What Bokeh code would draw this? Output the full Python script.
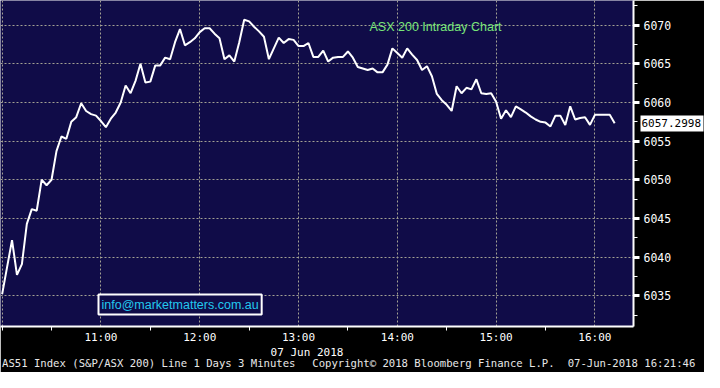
import pandas as pd
from bokeh.plotting import figure
from bokeh.models import (FixedTicker, Label, Range1d, DatetimeTickFormatter, ColumnDataSource,
                          LinearAxis)
from bokeh.embed import file_html
from bokeh.resources import INLINE

# ---------------- data ----------------
session_date = "2018-06-07"
start_time = "10:00"
bar_interval = "3min"
prices = [
    6035.2, 6038.7, 6042.2, 6037.7, 6039.1, 6044.3, 6046.2, 6046.0, 6050.0, 6049.3,
    6050.0, 6053.7, 6055.6, 6055.3, 6057.5, 6058.1, 6059.9, 6058.9, 6058.5, 6058.3,
    6057.6, 6056.8, 6057.9, 6058.7, 6060.0, 6062.2, 6061.2, 6062.8, 6065.0, 6062.6,
    6062.7, 6064.8, 6064.8, 6065.8, 6065.6, 6067.8, 6069.5, 6067.4, 6067.8, 6068.3,
    6069.1, 6069.6, 6069.6, 6068.9, 6068.3, 6065.6, 6066.1, 6065.3, 6067.8, 6070.7,
    6070.5, 6069.8, 6069.2, 6068.5, 6065.6, 6067.0, 6068.4, 6067.7, 6068.2, 6068.1,
    6067.3, 6067.3, 6067.7, 6065.9, 6065.9, 6066.7, 6065.3, 6065.8, 6065.9, 6065.9,
    6066.6, 6065.8, 6064.6, 6064.4, 6064.2, 6064.4, 6063.9, 6063.9, 6064.9, 6067.0,
    6066.4, 6065.8, 6067.0, 6066.2, 6065.5, 6064.2, 6064.7, 6063.4, 6061.1, 6060.3,
    6059.7, 6058.9, 6062.1, 6061.2, 6061.9, 6061.7, 6063.0, 6061.2, 6061.1, 6061.2,
    6060.1, 6057.9, 6059.0, 6058.1, 6059.5, 6059.1, 6058.7, 6058.2, 6057.8, 6057.5,
    6057.4, 6056.9, 6058.3, 6058.3, 6057.1, 6059.5, 6057.8, 6058.0, 6058.1, 6057.1,
    6058.4, 6058.4, 6058.4, 6058.4, 6057.2998,
]
hour_labels = ["11:00", "12:00", "13:00", "14:00", "15:00", "16:00"]
grid_hours = ["10:00", "11:00", "12:00", "13:00", "14:00", "15:00", "16:00"]
half_hours = ["10:00", "10:30", "11:30", "12:30", "13:30", "14:30", "15:30"]
x_window = ["09:59:00", "16:23:26"]
y_ticks = [6035, 6040, 6045, 6050, 6055, 6060, 6065, 6070]
y_minor = [6032.5, 6037.5, 6042.5, 6047.5, 6052.5, 6057.5, 6062.5, 6067.5, 6072.5]
y_window = [6031.02, 6073.195]
chart_title = "ASX 200 Intraday Chart"
contact = "info@marketmatters.com.au"
date_label = "07 Jun 2018"
footer_texts = ["AS51 Index (S&P/ASX 200) Line 1 Days 3 Minutes",
                "Copyright\u00a9 2018 Bloomberg Finance L.P.",
                "07-Jun-2018 16:21:46"]
last_label = "6057.2998"

times = pd.date_range(f"{session_date} {start_time}", periods=len(prices), freq=bar_interval)


def ms(hhmm):
    return pd.Timestamp(f"{session_date} {hhmm}").value / 1e6


source = ColumnDataSource(dict(t=times, price=prices))

# ---------------- figure ----------------
NAVY = "#100c48"
GRID = "#a3a193"
MONO = "DejaVu Sans Mono"
FRAME_W = 636

p = figure(
    width=704, height=372,
    x_axis_type="datetime", y_axis_location="right",
    x_range=Range1d(pd.Timestamp(f"{session_date} {x_window[0]}"), pd.Timestamp(f"{session_date} {x_window[1]}")),
    y_range=Range1d(y_window[0], y_window[1]),
    output_backend="svg", toolbar_location=None,
    min_border_left=0, min_border_top=0, min_border_right=704 - FRAME_W, min_border_bottom=46,
)
p.background_fill_color = NAVY
p.border_fill_color = "black"
p.outline_line_color = None

# grids
p.xgrid.ticker = FixedTicker(ticks=[ms(h) for h in grid_hours])
p.ygrid.ticker = FixedTicker(ticks=y_ticks)
for g in (p.xgrid[0], p.ygrid[0]):
    g.grid_line_color = GRID
    g.grid_line_dash = "2 2"
    g.grid_line_width = 1

# x axis (time)
xa = p.xaxis[0]
xa.ticker = FixedTicker(ticks=[ms(h) for h in hour_labels], minor_ticks=[ms(h) for h in half_hours])
xa.formatter = DatetimeTickFormatter(hours="%H:%M", hourmin="%H:%M", minutes="%H:%M", minsec="%H:%M")
xa.axis_line_color = "white"
xa.axis_line_width = 2
xa.major_tick_out = 0
xa.major_tick_in = 0
xa.minor_tick_out = 4
xa.minor_tick_in = 0
xa.minor_tick_line_color = "white"
xa.major_label_text_color = "white"
xa.major_label_text_font = MONO
xa.major_label_text_font_size = "11px"
xa.major_label_standoff = 0

# extra text rows below the time axis (date and footer), placed on a pixel-scale helper range
p.extra_x_ranges = {"canvas": Range1d(0, FRAME_W)}


def bare_axis(ax, size, standoff, color):
    ax.axis_line_color = None
    ax.minor_tick_line_color = None
    ax.minor_tick_out = 0
    ax.minor_tick_in = 0
    ax.major_label_text_color = color
    ax.major_label_text_font = MONO
    ax.major_label_text_font_size = size
    ax.major_label_standoff = standoff
    return ax


def text_row(labels, centers, size, standoff, color):
    ax = LinearAxis(x_range_name="canvas", ticker=FixedTicker(ticks=centers),
                    major_label_overrides={c: t for c, t in zip(centers, labels)})
    bare_axis(ax, size, standoff, color)
    ax.major_tick_line_color = None
    ax.major_tick_out = 0
    ax.major_tick_in = 0
    p.add_layout(ax, "below")
    return ax


text_row([date_label], [308], "11px", -1, "white")
text_row(footer_texts, [149, 435, 634], "10.6px", -5, "#e8e8e8")

# y axis (right)
ya = p.yaxis[0]
ya.ticker = FixedTicker(ticks=y_ticks, minor_ticks=y_minor)
ya.axis_line_color = "white"
ya.axis_line_width = 2
ya.major_tick_out = 6
ya.major_tick_in = 0
ya.major_tick_line_width = 3
ya.major_tick_line_color = "white"
ya.minor_tick_out = 4
ya.minor_tick_in = 0
ya.minor_tick_line_color = "white"
ya.major_label_text_color = "white"
ya.major_label_text_font = MONO
ya.major_label_text_font_size = "11.5px"
ya.major_label_standoff = 4

# last-price callout: a second right axis whose single wide tick forms the white tag
callout = LinearAxis(ticker=FixedTicker(ticks=[prices[-1]]),
                     major_label_overrides={prices[-1]: last_label})
bare_axis(callout, "11px", -62, "black")
callout.major_tick_line_color = "white"
callout.major_tick_line_width = 16
callout.major_tick_in = 34
callout.major_tick_out = 29
p.add_layout(callout, "right")

# price line
p.line("t", "price", source=source, line_color="white", line_width=2)

# annotations inside the frame
p.add_layout(Label(x=369, y=300, x_units="screen", y_units="screen", text=chart_title,
                   text_color="#78e678", text_font="Liberation Sans", text_font_size="12.5px",
                   text_baseline="middle", text_align="left"))

p.add_layout(Label(x=98, y=22, x_units="screen", y_units="screen", text=contact,
                   text_color="#22c8ee", text_font="Liberation Sans", text_font_size="12.5px",
                   text_baseline="middle", text_align="left",
                   border_line_color="white", border_line_width=2,
                   background_fill_color=NAVY, padding=3))

open("out.html", "w").write(file_html(p, INLINE))
